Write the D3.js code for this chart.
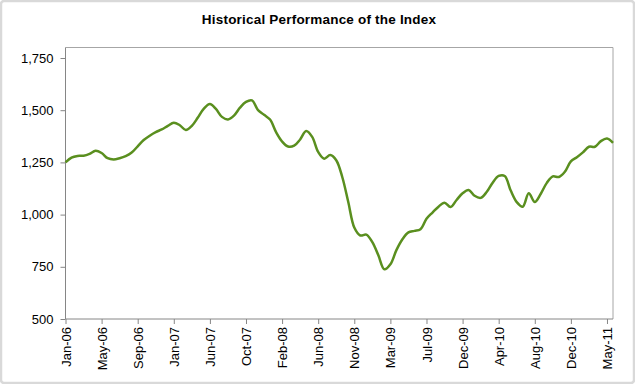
<!DOCTYPE html>
<head>
  <meta charset="utf-8">
  <script src="https://cdn.jsdelivr.net/npm/d3@7"></script>
  <style>
    body { margin: 0; background: #fff; }
    text { font-family: "Liberation Sans", Arial, sans-serif; fill: #000; }
  </style>
</head>
<body>
<script>

// index level, one reading every 1/6 of a label interval
var values = [1250, 1273, 1281, 1282, 1291, 1306, 1295, 1270, 1264, 1270,
              1280, 1297, 1327, 1357, 1378, 1395, 1408, 1425, 1440, 1428,
              1405, 1425, 1465, 1508, 1530, 1506, 1468, 1456, 1474, 1512,
              1540, 1547, 1500, 1478, 1455, 1395, 1350, 1326, 1330, 1360,
              1400, 1372, 1300, 1268, 1285, 1260, 1180, 1060, 938, 900,
              904, 868, 805, 738, 762, 830, 882, 915, 922, 930,
              980, 1010, 1038, 1057, 1036, 1070, 1102, 1118, 1090, 1080,
              1108, 1153, 1185, 1185, 1115, 1060, 1038, 1102, 1060, 1100,
              1152, 1183, 1180, 1205, 1255, 1275, 1298, 1325, 1325, 1352,
              1364, 1344]

var tickLabels = ["Jan-06", "May-06", "Sep-06", "Jan-07", "Jun-07", "Oct-07",
                  "Feb-08", "Jun-08", "Nov-08", "Mar-09", "Jul-09", "Dec-09",
                  "Apr-10", "Aug-10", "Dec-10", "May-11"]
var tickStep = 6
var yTicks = [500, 750, 1000, 1250, 1500, 1750]

var W = 635, H = 384
var plot = {left: 65.5, right: 613, top: 47.5, bottom: 319}

var svg = d3.select("body").append("svg")
  .attr("width", W)
  .attr("height", H)

svg.append("rect")
  .attr("x", 1).attr("y", 1)
  .attr("width", W - 2).attr("height", H - 2)
  .attr("rx", 3)
  .attr("fill", "#fff")
  .attr("stroke", "#d9d9d9")
  .attr("stroke-width", 2.5)

svg.append("text")
  .attr("x", 319)
  .attr("y", 24)
  .attr("text-anchor", "middle")
  .attr("font-weight", "bold")
  .attr("font-size", "13.5px")
  .attr("letter-spacing", "0.2px")
  .text("Historical Performance of the Index")

var x = d3.scaleLinear()
  .domain([0, values.length - 1])
  .range([plot.left, plot.right])

var y = d3.scaleLinear()
  .domain([500, 1750])
  .range([plot.bottom, 58])

// plot frame (top + right)
svg.append("path")
  .attr("d", "M" + plot.left + "," + plot.top + "H" + plot.right + "V" + plot.bottom)
  .attr("fill", "none")
  .attr("stroke", "#a6a6a6")
  .attr("stroke-width", 1)

var yAxis = svg.append("g")
  .attr("transform", "translate(" + plot.left + ",0)")
  .call(d3.axisLeft(y).tickValues(yTicks).tickSize(5).tickPadding(7)
          .tickFormat(d3.format(",")))
yAxis.select(".domain").attr("d", "M0," + plot.top + "V" + plot.bottom)

var xAxis = svg.append("g")
  .attr("transform", "translate(0," + plot.bottom + ")")
  .call(d3.axisBottom(x)
          .tickValues(tickLabels.map(function(d, i) { return i * tickStep }))
          .tickSize(5)
          .tickFormat(function(d) { return tickLabels[d / tickStep] }))
xAxis.select(".domain").attr("d", "M" + plot.left + ",0H" + plot.right)

svg.selectAll(".domain, .tick line").attr("stroke", "#868686")
svg.selectAll(".tick text")
  .attr("font-size", "13px")
  .attr("fill", "#000")
  .style("font-family", "'Liberation Sans', Arial, sans-serif")

xAxis.selectAll(".tick text")
  .attr("transform", "rotate(-90)")
  .attr("text-anchor", "end")
  .attr("x", -8)
  .attr("y", 0)
  .attr("dy", "0.35em")

var line = d3.line()
  .x(function(d, i) { return x(i) })
  .y(function(d) { return y(d) })
  .curve(d3.curveCatmullRom.alpha(0.5))

svg.append("path")
  .datum(values)
  .attr("fill", "none")
  .attr("stroke", "#5a8f1f")
  .attr("stroke-width", 2.5)
  .attr("stroke-linejoin", "round")
  .attr("d", line)

</script>
</body>
